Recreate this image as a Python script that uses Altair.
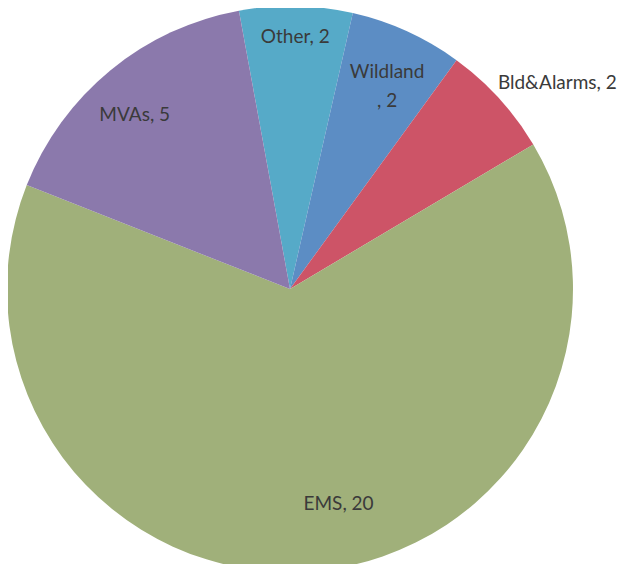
import math
import altair as alt
import pandas as pd

categories = ["Other", "Wildland", "Bld&Alarms", "EMS", "MVAs"]
values = [2, 2, 2, 20, 5]
labels = ["Other, 2", "Wildland\n, 2", "Bld&Alarms, 2", "EMS, 20", "MVAs, 5"]
colors = ["#56aac8", "#5c8dc4", "#cd5467", "#a0b07a", "#8b79ac"]

df = pd.DataFrame({
    "category": categories,
    "value": values,
    "label": labels,
    "idx": list(range(len(categories))),
})

start = math.radians(-10.4)
theta_scale = alt.Scale(domain=[0, 1], range=[start, start + 2 * math.pi])
CX, CY, R = 282, 281, 283

base = (
    alt.Chart(df)
    .transform_window(cum="sum(value)", sort=[alt.SortField("idx")], frame=[None, 0])
    .transform_joinaggregate(total="sum(value)")
    .transform_calculate(
        t0="(datum.cum - datum.value) / datum.total",
        t1="datum.cum / datum.total",
        tm="(datum.cum - datum.value / 2) / datum.total",
    )
)

pie = base.mark_arc(radius=R).encode(
    theta=alt.Theta("t0:Q", scale=theta_scale),
    theta2="t1:Q",
    x=alt.value(CX),
    y=alt.value(CY),
    color=alt.Color("category:N", scale=alt.Scale(domain=categories, range=colors), legend=None),
)

# label placement tweaks (style only)
label_style = {
    "Other": dict(radius=252, dx=0, dy=0),
    "Wildland": dict(radius=225, dx=4, dy=-12),
    "Bld&Alarms": dict(radius=340, dx=16, dy=23),
    "EMS": dict(radius=219, dx=31, dy=-3),
    "MVAs": dict(radius=235, dx=-6, dy=8),
}

text_layers = []
for cat in categories:
    st = label_style[cat]
    t = base.transform_filter(alt.datum.category == cat).mark_text(
        font="Lato", fontSize=19, color="#3a3a3a", lineBreak="\n",
        lineHeight=29, baseline="middle", align="center",
        radius=st["radius"], dx=st["dx"], dy=st["dy"],
    ).encode(
        theta=alt.Theta("tm:Q", scale=theta_scale),
        x=alt.value(CX),
        y=alt.value(CY),
        text="label:N",
    )
    text_layers.append(t)

chart = alt.layer(pie, *text_layers).properties(
    width=609, height=556,
    autosize=alt.AutoSizeParams(type="none"),
    padding=0,
).configure(background="white").configure_view(strokeWidth=0)

chart.save("out.html", embed_options={"renderer": "svg", "actions": False})
